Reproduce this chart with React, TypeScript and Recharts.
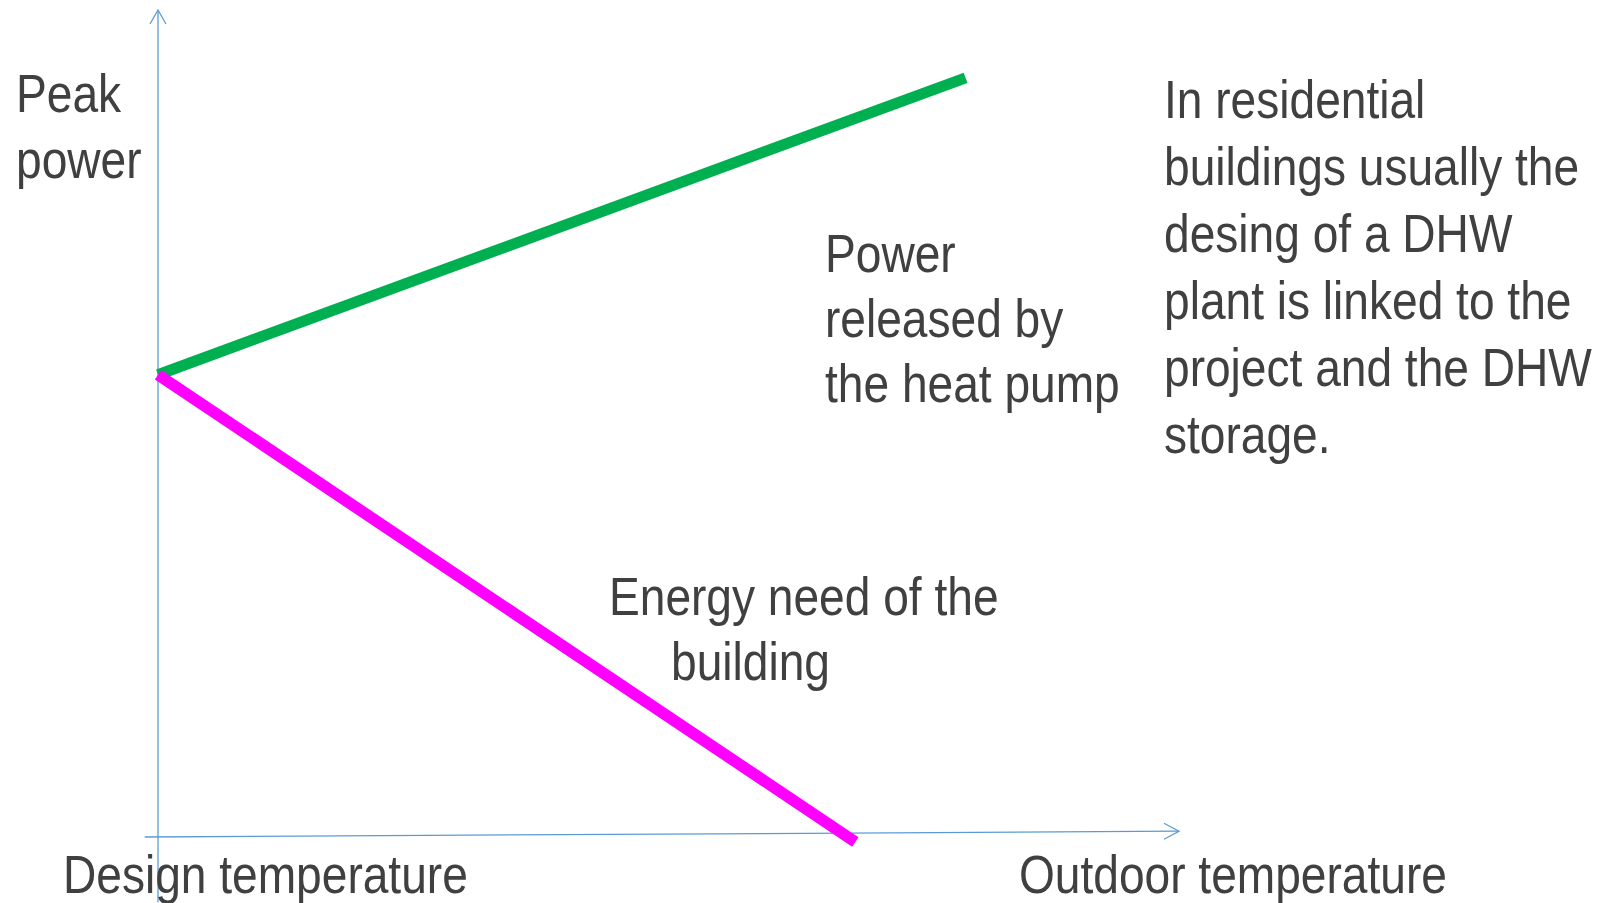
import React from "react";
import { LineChart, Line, XAxis, YAxis } from "recharts";

// ---- data (chart units: x = outdoor temperature scale, y = power scale) ----
const heatPumpX = [0, 7.91];
const heatPumpY = [5.59, 9.18];
const buildingX = [0, 6.83];
const buildingY = [5.59, -0.06];
const yAxisLineX = [0, 0];
const yAxisLineY = [-0.79, 10.0];
const xAxisLineX = [-0.13, 10.0];
const xAxisLineY = [0, 0.07];

const xDomain = [-1.5475, 14.153];
const yDomain = [-0.798, 10.121];

// ---- text ----
const yTitle = ["Peak", "power"];
const heatPumpLabel = ["Power", "released by", "the heat pump"];
const buildingLabel = ["Energy need of the", "building"];
const noteLines = [
  "In residential",
  "buildings usually the",
  "desing of a DHW",
  "plant is linked to the",
  "project and the DHW",
  "storage.",
];
const xStartLabel = "Design temperature";
const xEndLabel = "Outdoor temperature";

const W = 1603;
const H = 903;
const TEXT_COLOR = "#404040";
const AXIS_COLOR = "#5B9BD5";
const FONT = "'Liberation Sans', Arial, sans-serif";
const FS = 53;
const SQUEEZE = 0.87;

const zip = (xs: number[], ys: number[]) => xs.map((x, i) => ({ x, y: ys[i] }));

const arrowDot = (dir: "up" | "right", last: number) => (props: any) => {
  const { cx, cy, index } = props;
  if (index !== last || cx == null || cy == null) return <g key={`a-${dir}-${index}`} />;
  const d =
    dir === "up"
      ? `M${cx - 8},${cy + 14} L${cx},${cy} L${cx + 8},${cy + 14}`
      : `M${cx - 15},${cy - 8} L${cx},${cy} L${cx - 15},${cy + 8}`;
  return <path key={`a-${dir}-${index}`} d={d} fill="none" stroke={AXIS_COLOR} strokeWidth={1.3} />;
};

const TextBlock = ({ lines, x, y, step, xs }: { lines: string[]; x: number; y: number; step: number; xs?: number[] }) => (
  <>
    {lines.map((t, i) => (
      <text
        key={i}
        x={0}
        y={0}
        transform={`translate(${xs ? xs[i] : x},${y + i * step}) scale(${SQUEEZE},1)`}
        fill={TEXT_COLOR}
        fontFamily={FONT}
        fontSize={FS}
      >
        {t}
      </text>
    ))}
  </>
);

export default function App() {
  return (
    <div style={{ position: "absolute", left: 0, top: 0, width: W, height: H, background: "#fff" }}>
      <LineChart width={W} height={H} margin={{ top: 0, right: 0, bottom: 0, left: 0 }}>
        <XAxis type="number" dataKey="x" domain={xDomain} hide />
        <YAxis type="number" dataKey="y" domain={yDomain} hide />
        <Line
          data={zip(yAxisLineX, yAxisLineY)}
          dataKey="y"
          type="linear"
          stroke={AXIS_COLOR}
          strokeWidth={1.3}
          dot={arrowDot("up", 1)}
          activeDot={false}
          isAnimationActive={false}
        />
        <Line
          data={zip(xAxisLineX, xAxisLineY)}
          dataKey="y"
          type="linear"
          stroke={AXIS_COLOR}
          strokeWidth={1.3}
          dot={arrowDot("right", 1)}
          activeDot={false}
          isAnimationActive={false}
        />
        <Line
          data={zip(heatPumpX, heatPumpY)}
          dataKey="y"
          type="linear"
          stroke="#00B050"
          strokeWidth={11}
          dot={false}
          activeDot={false}
          isAnimationActive={false}
        />
        <Line
          data={zip(buildingX, buildingY)}
          dataKey="y"
          type="linear"
          stroke="#FF00FF"
          strokeWidth={11.5}
          dot={false}
          activeDot={false}
          isAnimationActive={false}
        />
      </LineChart>
      <svg width={W} height={H} style={{ position: "absolute", left: 0, top: 0, pointerEvents: "none" }}>
        <TextBlock lines={yTitle} x={16} y={112} step={66} />
        <TextBlock lines={heatPumpLabel} x={825} y={272} step={65} />
        <TextBlock lines={buildingLabel} x={609} y={615} step={65} xs={[609, 671]} />
        <TextBlock lines={noteLines} x={1164} y={118} step={67} />
        <TextBlock lines={[xStartLabel]} x={63} y={893} step={0} />
        <TextBlock lines={[xEndLabel]} x={1019} y={893} step={0} />
      </svg>
    </div>
  );
}
